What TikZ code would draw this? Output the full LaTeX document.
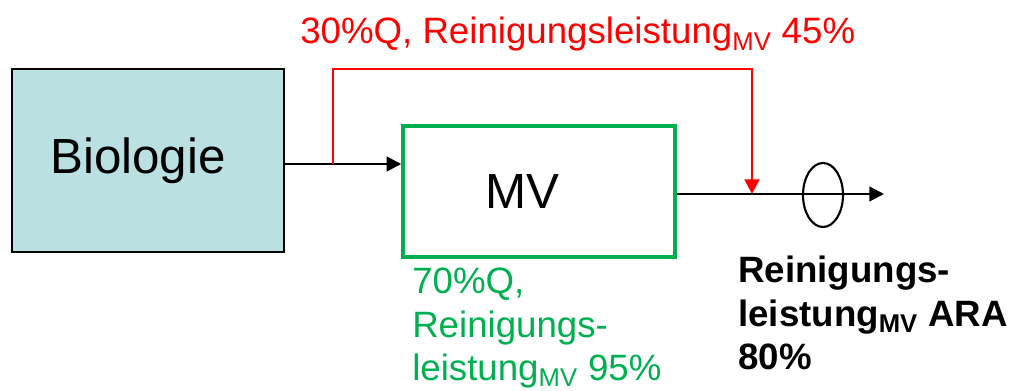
\documentclass[tikz,border=0pt]{standalone}
\usepackage{fontspec}
\setmainfont{Liberation Sans}
\usepackage{xcolor}
\usetikzlibrary{positioning}
\usetikzlibrary{arrows.meta}
\usetikzlibrary{shapes.geometric}
\definecolor{biofill}{HTML}{BAE0E2}
\definecolor{mvgreen}{HTML}{00B050}

\begin{document}
\begin{tikzpicture}[
x=0.75pt, y=-0.75pt,
stagenode/.style={rectangle, inner sep=0pt, minimum width=204pt, font=\fontsize{37}{40}\selectfont},
flowline/.style={line width=1.6pt, -{Triangle[length=11pt, width=11pt]}},
bypassline/.style={red, line width=2.2pt, -{Triangle[length=11pt, width=11pt]}},
labeltext/.style={align=left, anchor=north west, inner sep=0pt, font=\fontsize{27.5}{32.5}\selectfont},
]
\useasboundingbox (0,0) rectangle (1010,391);
%Nodes
\node[stagenode, draw=black, line width=1.6pt, fill=biofill, minimum height=137pt]		(bio)	at (148,160.5)	{Biologie\hspace*{15pt}};
\node[stagenode, draw=mvgreen, line width=2.6pt, minimum height=98pt]		(mv)	at (539,191.5)	{MV\hspace*{25pt}};
\coordinate (split) at (333,164);
\coordinate (merge) at (752,194);
\coordinate (outend) at (884,194);
\node[ellipse, draw=black, line width=1.6pt, minimum width=30pt, minimum height=48pt, inner sep=0pt]	(probe)	at (823,195)	{};

%Labels
\node[labeltext, red, anchor=base west]	(bypasslabel)	at (300,44)	{30\%Q, Reinigungsleistung\textsubscript{MV} 45\%};
\node[labeltext, mvgreen]	(mvlabel)	at (412,268)	{70\%Q,\\Reinigungs-\\leistung\textsubscript{MV} 95\%};
\node[labeltext, font=\fontsize{27.5}{32.5}\selectfont\bfseries]	(aralabel)	at (738,256)	{Reinigungs-\\leistung\textsubscript{MV} ARA\\80\%};

%Lines
\draw[flowline] (bio.east |- split) -- (mv.west |- split);
\draw[bypassline] (split) -- (split |- 0,69) -- (merge |- 0,69) -- (merge);
\draw[flowline] (mv.east |- merge) -- (outend);
\end{tikzpicture}
\end{document}
